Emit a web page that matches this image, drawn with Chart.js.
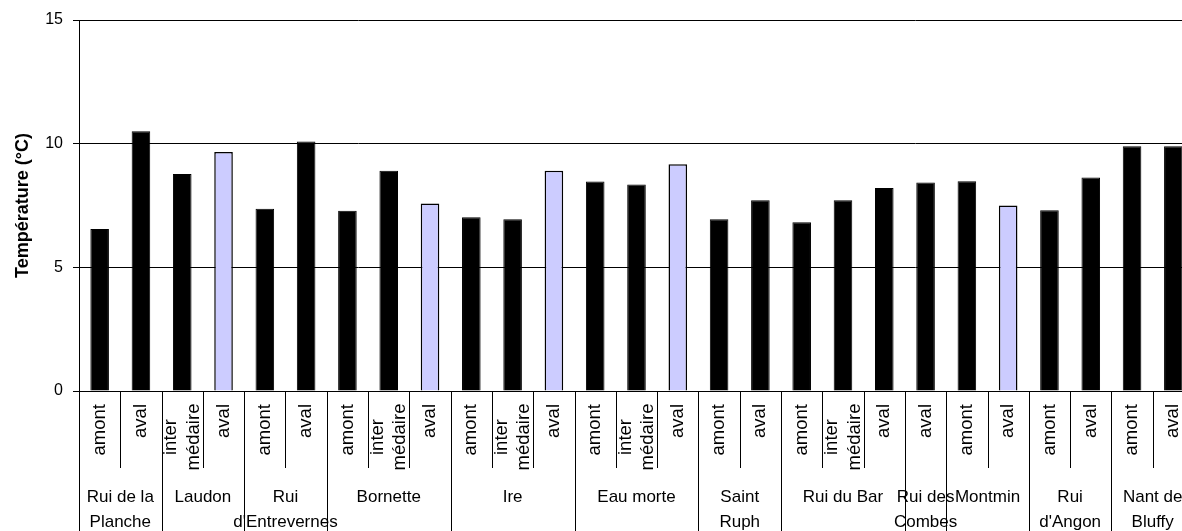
<!DOCTYPE html>
<html lang="fr">
<head>
    <meta charset="UTF-8">
    <title>Température des cours d'eau</title>
    <script src="https://cdn.jsdelivr.net/npm/chart.js"></script>
    <style>
        html, body { margin: 0; padding: 0; background: #fff; overflow: hidden; }
        #wrap { width: 1194px; height: 531px; position: relative; }
    </style>
</head>
<body>
    <div id="wrap"><canvas id="tempChart"></canvas></div>

    <script>
        // stations (sub-labels), in order along the axis
        const stations = [
            'amont', 'aval',
            ['inter', 'médaire'], 'aval',
            'amont', 'aval',
            'amont', ['inter', 'médaire'], 'aval',
            'amont', ['inter', 'médaire'], 'aval',
            'amont', ['inter', 'médaire'], 'aval',
            'amont', 'aval',
            'amont', ['inter', 'médaire'], 'aval',
            'aval',
            'amont', 'aval',
            'amont', 'aval',
            'amont', 'aval'
        ];

        // streams and how many stations each has
        const streams = [
            ['Rui de la', 'Planche'], ['Laudon'], ['Rui', "d'Entrevernes"], ['Bornette'],
            ['Ire'], ['Eau morte'], ['Saint', 'Ruph'], ['Rui du Bar'], ['Rui des', 'Combes'],
            ['Montmin'], ['Rui', "d'Angon"], ['Nant de', 'Bluffy']
        ];
        const streamSizes = [2, 2, 2, 3, 3, 3, 2, 3, 1, 2, 2, 2];

        // temperature (°C)
        const temperatures = [
            6.55, 10.5,
            8.77, 9.66,
            7.37, 10.09,
            7.29, 8.91, 7.58,
            7.02, 6.94, 8.9,
            8.47, 8.35, 9.17,
            6.94, 7.71,
            6.82, 7.71, 8.21,
            8.43,
            8.48, 7.5,
            7.31, 8.63,
            9.9, 9.9
        ];

        // bars drawn in lavender
        const lavenderBars = [3, 8, 11, 14, 22];

        const FONT = 'Arial, "Liberation Sans", sans-serif';

        // draws station labels, stream names and separators under the x axis
        const groupAxis = {
            id: 'groupAxis',
            afterDraw(chart) {
                const ctx = chart.ctx;
                const x = chart.scales.x;
                const y0 = chart.chartArea.bottom;
                const bottom = chart.height;
                ctx.save();
                ctx.strokeStyle = '#000';
                ctx.fillStyle = '#000';
                ctx.lineWidth = 1;

                // station labels, rotated
                ctx.font = '18.5px ' + FONT;
                ctx.textBaseline = 'middle';
                stations.forEach((lab, i) => {
                    const cx = x.getPixelForValue(i);
                    if (Array.isArray(lab)) {
                        lab.forEach((line, k) => {
                            ctx.save();
                            ctx.translate(cx + (k === 0 ? -11 : 11.5), y0 + 46);
                            ctx.rotate(-Math.PI / 2);
                            ctx.textAlign = 'center';
                            ctx.fillText(line, 0, 0);
                            ctx.restore();
                        });
                    } else {
                        ctx.save();
                        ctx.translate(cx, y0 + 13);
                        ctx.rotate(-Math.PI / 2);
                        ctx.textAlign = 'right';
                        ctx.fillText(lab, 0, 0);
                        ctx.restore();
                    }
                });

                // separators between stations
                for (let i = 1; i < stations.length; i++) {
                    const px = Math.round(x.getPixelForValue(i - 0.5)) + 0.5;
                    ctx.beginPath();
                    ctx.moveTo(px, y0);
                    ctx.lineTo(px, y0 + 77);
                    ctx.stroke();
                }

                // stream boundaries and names
                ctx.font = '17px ' + FONT;
                ctx.textAlign = 'center';
                let start = 0;
                for (let g = 0; g <= streams.length; g++) {
                    const px = Math.round(x.getPixelForValue(start - 0.5)) + 0.5;
                    ctx.beginPath();
                    ctx.moveTo(px, y0);
                    ctx.lineTo(px, bottom);
                    ctx.stroke();
                    if (g === streams.length) break;
                    const end = start + streamSizes[g];
                    const cx = (x.getPixelForValue(start - 0.5) + x.getPixelForValue(end - 0.5)) / 2;
                    streams[g].forEach((line, k) => {
                        ctx.fillText(line, cx, y0 + 106 + k * 25);
                    });
                    start = end;
                }
                ctx.restore();
            }
        };

        const ctx = document.getElementById('tempChart').getContext('2d');
        new Chart(ctx, {
            type: 'bar',
            data: {
                labels: stations,
                datasets: [{
                    label: 'Température',
                    data: temperatures,
                    backgroundColor: temperatures.map((v, i) => lavenderBars.includes(i) ? '#ccccff' : '#000'),
                    borderColor: '#000',
                    borderWidth: temperatures.map((v, i) => lavenderBars.includes(i) ? 1.5 : 1),
                    barPercentage: 0.45,
                    categoryPercentage: 1.0
                }]
            },
            options: {
                responsive: true,
                maintainAspectRatio: false,
                animation: false,
                layout: { padding: { top: 20, right: 0, bottom: 0, left: 0 } },
                plugins: {
                    legend: { display: false },
                    tooltip: { enabled: false }
                },
                scales: {
                    x: {
                        offset: true,
                        grid: { display: false },
                        border: { display: true, color: '#000', width: 1 },
                        ticks: { display: false },
                        afterFit(scale) { scale.height = 140; }
                    },
                    y: {
                        min: 0,
                        max: 15,
                        ticks: {
                            stepSize: 5,
                            padding: 10,
                            color: '#000',
                            font: { family: FONT, size: 16 }
                        },
                        grid: { color: '#000', lineWidth: 1, tickLength: 6 },
                        border: { display: true, color: '#000', width: 1 },
                        title: {
                            display: true,
                            text: 'Température (°C)',
                            color: '#000',
                            font: { family: FONT, size: 18, weight: 'bold' },
                            padding: { top: 12, bottom: 0 }
                        },
                        afterFit(scale) { scale.width = 79; }
                    }
                }
            },
            plugins: [groupAxis]
        });
    </script>
</body>
</html>
